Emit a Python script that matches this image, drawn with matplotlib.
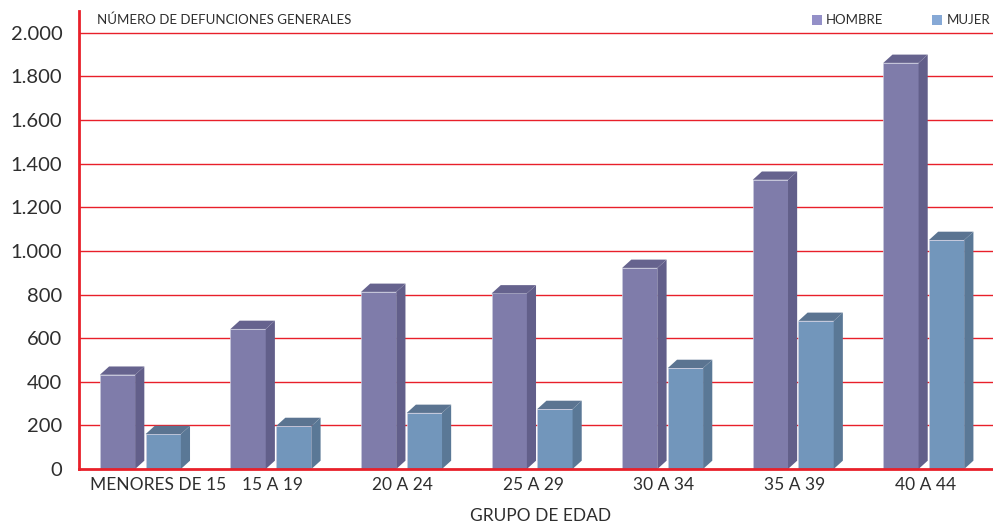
import numpy as np
import matplotlib
matplotlib.use('Agg')
from matplotlib import pyplot as plt
from matplotlib.patches import Polygon, Rectangle
from matplotlib.ticker import FuncFormatter
import matplotlib.transforms as mtransforms

grupos = ['MENORES DE 15', '15 A 19', '20 A 24', '25 A 29', '30 A 34', '35 A 39', '40 A 44']
hombre = [432, 642, 812, 805, 922, 1326, 1862]
mujer = [160, 197, 257, 275, 463, 679, 1050]

plt.rcParams['font.family'] = ['Lato', 'DejaVu Sans']
txt = '#2e2e2e'
red = '#e8202a'

fig = plt.figure(figsize=(9.93, 5.23), dpi=100)
ax = fig.add_axes([0.0796, 0.1033, 0.9204, 0.8757])
ax.set_xlim(0, 7)
ax.set_ylim(0, 2100)

# gridlines
for v in range(200, 2001, 200):
    ax.axhline(v, color=red, lw=1.0, zorder=0)

w = 0.27
dx = 0.07
dy = 38


def bar3d(x0, h, front, side, top):
    ax.add_patch(Rectangle((x0, 0), w, h, facecolor=front, edgecolor='#c8c8dc', lw=0.5, zorder=3))
    ax.add_patch(Polygon([(x0 + w, 0), (x0 + w + dx, dy), (x0 + w + dx, h + dy), (x0 + w, h)],
                         closed=True, facecolor=side, edgecolor='none', zorder=3))
    ax.add_patch(Polygon([(x0, h), (x0 + dx, h + dy), (x0 + w + dx, h + dy), (x0 + w, h)],
                         closed=True, facecolor=top, edgecolor='none', zorder=3))


for i in range(len(grupos)):
    bar3d(i + 0.16, hombre[i], '#7f7caa', '#625f8a', '#66638e')
    bar3d(i + 0.51, mujer[i], '#7296bb', '#5a7896', '#5b7491')

ax.spines['top'].set_visible(False)
ax.spines['right'].set_visible(False)
ax.spines['left'].set_color(red)
ax.spines['left'].set_linewidth(2)
ax.spines['bottom'].set_color(red)
ax.spines['bottom'].set_linewidth(2)
ax.spines['bottom'].set_zorder(4)

ax.set_yticks(range(0, 2001, 200))
ax.yaxis.set_major_formatter(FuncFormatter(lambda v, p: f'{int(v):,}'.replace(',', '.')))
ax.tick_params(axis='y', length=0, labelsize=14.5, labelcolor=txt, pad=12)

ax.set_xticks(np.arange(len(grupos)) + 0.48)
ax.set_xticklabels(grupos)
ax.tick_params(axis='x', length=0, labelsize=12.5, labelcolor=txt, pad=6)
lbl = ax.get_xticklabels()[0]
lbl.set_transform(lbl.get_transform() + mtransforms.ScaledTranslation(0.16, 0, fig.dpi_scale_trans))
ax.set_xlabel('GRUPO DE EDAD', fontsize=12.5, color=txt)
ax.xaxis.set_label_coords(0.505, -0.085)

fig.text(97 / 993, 1 - 20 / 523, 'NÚMERO DE DEFUNCIONES GENERALES', fontsize=9.5, color=txt, va='center')

# legend
fig.patches.append(Rectangle((812 / 993, 1 - 25 / 523), 10 / 993, 10 / 523, transform=fig.transFigure,
                             facecolor='#9490c8', edgecolor='none'))
fig.text(826 / 993, 1 - 20 / 523, 'HOMBRE', fontsize=9.5, color=txt, va='center')
fig.patches.append(Rectangle((932 / 993, 1 - 25 / 523), 10 / 993, 10 / 523, transform=fig.transFigure,
                             facecolor='#86a9d6', edgecolor='none'))
fig.text(947 / 993, 1 - 20 / 523, 'MUJER', fontsize=9.5, color=txt, va='center')

fig.savefig('out.png', dpi=100)
